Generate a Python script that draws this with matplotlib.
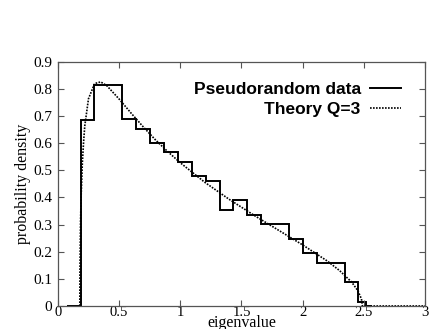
import matplotlib
matplotlib.use("Agg")
import matplotlib.pyplot as plt

# histogram (bin edges and heights)
bin_edges = [0.072, 0.1855, 0.299, 0.4125, 0.526, 0.6395, 0.753, 0.8665, 0.98,
             1.0935, 1.207, 1.3205, 1.434, 1.5475, 1.661, 1.7745, 1.888, 2.0015,
             2.115, 2.2285, 2.342, 2.4555, 2.52, 2.57]
hist_heights = [0.0, 0.686, 0.813, 0.813, 0.689, 0.653, 0.600, 0.566, 0.530,
                0.478, 0.459, 0.354, 0.389, 0.336, 0.301, 0.301, 0.247, 0.197,
                0.160, 0.160, 0.090, 0.016, 0.0]

# theory curve (Q=3)
theory_x = [0.179, 0.18, 0.185, 0.19, 0.2, 0.21, 0.22, 0.25, 0.3, 0.35, 0.4, 0.5,
            0.6, 0.7, 0.8, 0.9, 1.0, 1.2, 1.4, 1.6, 1.8, 2.0, 2.2, 2.3, 2.4,
            2.45, 2.48, 2.488, 3.0]
theory_y = [0.0, 0.12, 0.31, 0.407, 0.528, 0.605, 0.665, 0.764, 0.820, 0.826,
            0.812, 0.763, 0.710, 0.659, 0.611, 0.568, 0.528, 0.456, 0.393,
            0.335, 0.280, 0.225, 0.166, 0.131, 0.088, 0.057, 0.026, 0.0, 0.0]

fig = plt.figure(figsize=(4.32, 3.29), dpi=100)
ax = fig.add_axes([0.134, 0.070, 0.850, 0.742])

ax.stairs(hist_heights, bin_edges, color="black", linewidth=1.4,
          label="Pseudorandom data")
ax.plot(theory_x, theory_y, color="black", linewidth=1.2, linestyle=(0, (1, 0.8)),
        label="Theory Q=3")

ax.set_xlim(0, 3)
ax.set_ylim(0, 0.9)
ax.set_xticks([0, 0.5, 1, 1.5, 2, 2.5, 3])
ax.set_xticklabels(["0", "0.5", "1", "1.5", "2", "2.5", "3"])
ax.set_yticks([0, 0.1, 0.2, 0.3, 0.4, 0.5, 0.6, 0.7, 0.8, 0.9])
ax.set_yticklabels(["0", "0.1", "0.2", "0.3", "0.4", "0.5", "0.6", "0.7", "0.8", "0.9"])

serif = "Liberation Serif"
ax.tick_params(direction="in", top=True, right=True, length=4, width=0.8,
               color="#555555")
ax.tick_params(axis="x", pad=0)
ax.tick_params(axis="y", pad=4)
for lab in ax.get_xticklabels():
    lab.set_fontfamily(serif)
    lab.set_fontsize(10.5)
for lab in ax.get_yticklabels():
    lab.set_fontfamily(serif)
    lab.set_fontsize(11)
for s in ax.spines.values():
    s.set_color("#555555")
    s.set_linewidth(0.9)

ax.set_xlabel("eigenvalue", fontfamily=serif, fontsize=11.5, va="baseline")
ax.set_ylabel("probability density", fontfamily=serif, fontsize=11.5)
ax.xaxis.set_label_coords(0.5, -0.088)
ax.yaxis.set_label_coords(-0.074, 0.5)

leg = ax.legend(loc="upper right", bbox_to_anchor=(0.957, 0.955), frameon=False,
                markerfirst=False, handlelength=1.75, handletextpad=0.55,
                labelspacing=0.3, borderpad=0,
                prop={"family": "Liberation Sans", "weight": "bold", "size": 12.5})

fig.savefig("out.png", dpi=100)
